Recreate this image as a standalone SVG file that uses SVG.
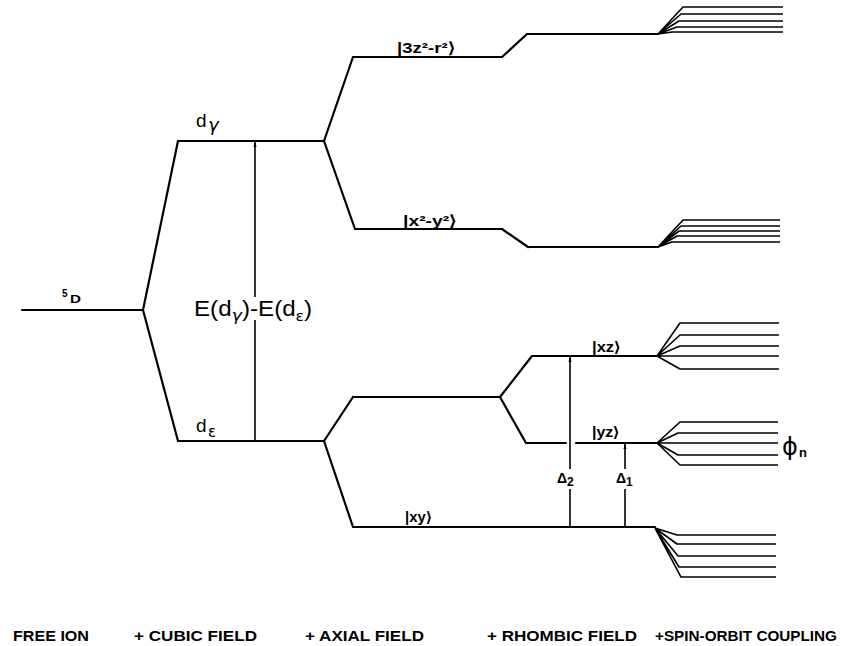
<svg xmlns="http://www.w3.org/2000/svg" width="842" height="646" viewBox="0 0 842 646">
<style>
.l{stroke:#000;stroke-width:2.2;fill:none;stroke-linecap:round;stroke-linejoin:round}
.f{stroke:#000;stroke-width:1.6;fill:none;stroke-linejoin:round}
.a{stroke:#000;stroke-width:1.6;fill:none}
.t{font-family:"Liberation Sans",Arial,sans-serif;fill:#000}
.b{font-weight:bold}
.g{font-family:"DejaVu Sans","Liberation Sans",sans-serif;fill:#000}
</style>
<defs>
<marker id="ah" markerWidth="6" markerHeight="11" refX="10" refY="3" orient="auto" markerUnits="userSpaceOnUse" viewBox="0 0 11 6">
<path d="M0,0 L11,3 L0,6 z" fill="#000"/>
</marker>
</defs>
<rect width="842" height="646" fill="#fff"/>

<g id="free-ion">
<path class="l" d="M22,310 H143"/>
<text class="t b" x="62" y="297" font-size="10">5</text>
<text class="t b" x="70" y="303" font-size="11" textLength="11" lengthAdjust="spacingAndGlyphs">D</text>
</g>

<g id="d-gamma">
<path class="l" d="M178,141 H324"/>
<text class="t" x="196" y="127" font-size="19">d</text>
<text class="g" x="208" y="131" font-size="18" font-style="italic">γ</text>
</g>

<g id="d-epsilon">
<path class="l" d="M178,441 H324"/>
<text class="t" x="196" y="432" font-size="19">d</text>
<text class="g" x="208" y="437" font-size="15">ε</text>
</g>

<g id="level-3z2-r2">
<path class="l" d="M353,57 H502"/>
<path class="l" d="M527,34 H658"/>
<text class="t b" x="397" y="53" font-size="15" textLength="58" lengthAdjust="spacingAndGlyphs">|3z²-r²⟩</text>
</g>

<g id="level-x2-y2">
<path class="l" d="M355,229 H502"/>
<path class="l" d="M528,247 H658"/>
<text class="t b" x="403" y="226" font-size="15" textLength="54" lengthAdjust="spacingAndGlyphs">|x²-y²⟩</text>
</g>

<g id="level-axial-upper">
<path class="l" d="M353,397 H500"/>
</g>

<g id="level-xz">
<path class="l" d="M532,356 H657"/>
<text class="t b" x="592" y="352" font-size="14" textLength="28" lengthAdjust="spacingAndGlyphs">|xz⟩</text>
</g>

<g id="level-yz">
<path class="l" d="M526,443 H566 M576,443 H657"/>
<text class="t b" x="592" y="437" font-size="14" textLength="27" lengthAdjust="spacingAndGlyphs">|yz⟩</text>
</g>

<g id="level-xy">
<path class="l" d="M353,527 H655"/>
<text class="t b" x="405" y="522" font-size="14" textLength="26" lengthAdjust="spacingAndGlyphs">|xy⟩</text>
</g>

<g id="so-3z2-r2">
<path class="f" d="M658,34 L683,7 H783 M658,34 L681,14 H783 M658,34 L679,21 H783 M658,34 L677,27 H783 M658,34 L672,32 H783"/>
</g>
<g id="so-x2-y2">
<path class="f" d="M658,247 L683,220 H780 M658,247 L681,226 H780 M658,247 L679,231 H780 M658,247 L677,236 H780 M658,247 L672,242 H780"/>
</g>
<g id="so-xz">
<path class="f" d="M657,356 L680,323 H779 M657,356 L680,335 H779 M657,356 L680,346 H779 M657,356 H779 M657,356 L680,369 H779"/>
</g>
<g id="so-yz">
<path class="f" d="M657,443 L680,422 H778 M657,443 L678,433 H778 M657,443 H778 M657,443 L678,455 H778 M657,443 L680,465 H778"/>
<text class="g" x="782" y="455" font-size="24">ϕ</text>
<text class="t b" x="799" y="457" font-size="13">n</text>
</g>
<g id="so-xy">
<path class="f" d="M655,528 L677,535 H776 M655,528 L677,544 H776 M655,528 L678,556 H776 M655,528 L679,567 H776 M655,528 L681,577 H776"/>
</g>

<g id="connectors">
<path class="l" d="M143,310 L178,141 M143,310 L178,441"/>
<path class="l" d="M324,141 L353,57 M324,141 L355,229"/>
<path class="l" d="M502,57 L527,34 M502,229 L528,247"/>
<path class="l" d="M324,441 L353,397 M324,441 L353,527"/>
<path class="l" d="M500,397 L532,356 M500,397 L526,443"/>
<path class="a" d="M255,441 V320"/>
<path class="a" d="M255,297 V142" marker-end="url(#ah)"/>
<path class="a" d="M570,527 V489"/>
<path class="a" d="M570,469 V357" marker-end="url(#ah)"/>
<path class="a" d="M625,527 V489"/>
<path class="a" d="M625,469 V444" marker-end="url(#ah)"/>
</g>

<g id="labels">
<text class="t" x="194" y="316" font-size="22" textLength="118" lengthAdjust="spacingAndGlyphs">E(d<tspan class="g" font-size="16" font-style="italic" dy="5">γ</tspan><tspan dy="-5">)-E(d</tspan><tspan class="g" font-size="14" dy="5">ε</tspan><tspan dy="-5">)</tspan></text>
<text class="t b" x="557" y="483" font-size="14">Δ<tspan font-size="12" dy="3">2</tspan></text>
<text class="t b" x="616" y="483" font-size="14">Δ<tspan font-size="12" dy="3">1</tspan></text>
</g>

<g id="axis-labels" class="t b" font-size="14.5">
<text x="13" y="641" textLength="76" lengthAdjust="spacingAndGlyphs">FREE ION</text>
<text x="134" y="641" textLength="123" lengthAdjust="spacingAndGlyphs">+ CUBIC FIELD</text>
<text x="305" y="641" textLength="119" lengthAdjust="spacingAndGlyphs">+ AXIAL FIELD</text>
<text x="487" y="641" textLength="150" lengthAdjust="spacingAndGlyphs">+ RHOMBIC FIELD</text>
<text x="655" y="641" textLength="182" lengthAdjust="spacingAndGlyphs">+SPIN-ORBIT COUPLING</text>
</g>
</svg>
